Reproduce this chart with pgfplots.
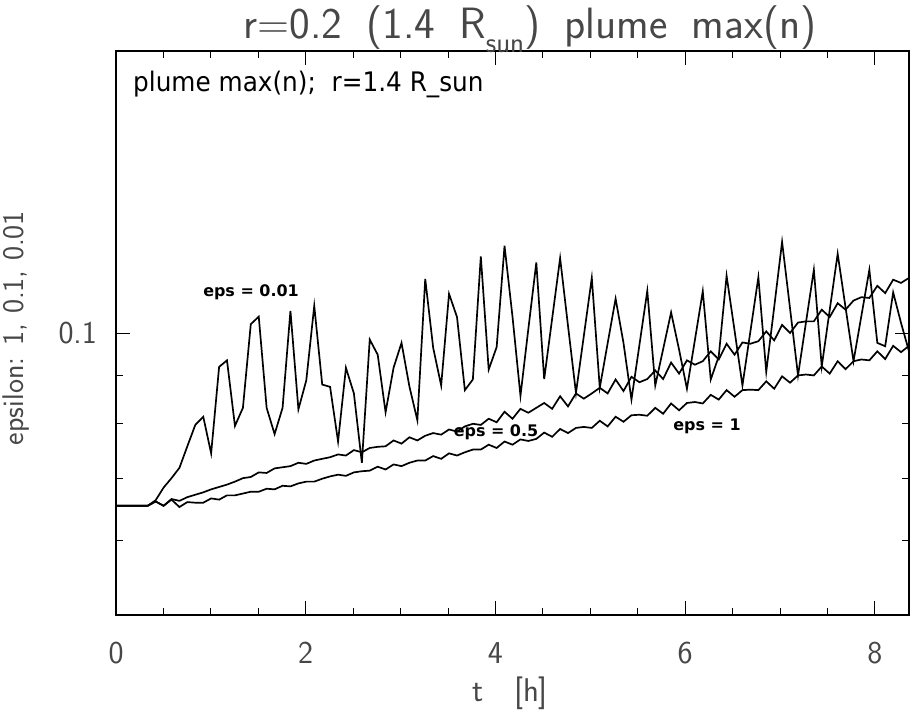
\documentclass[border=0pt]{standalone}
\usepackage{pgfplots}
\pgfplotsset{compat=1.18}
\usepackage{pgfplotstable}
\usepackage{fontspec}
\newcommand\hfont{\sffamily\color{black!72}}
\newfontfamily\condfont{DejaVu Sans}[FakeStretch=0.92]
\newfontfamily\dejavu{DejaVu Sans}

\pgfplotstableread{
t e001 e05 e1
0.000 0.0654 0.0654 0.0654
0.084 0.0654 0.0654 0.0654
0.167 0.0654 0.0654 0.0654
0.251 0.0654 0.0654 0.0654
0.334 0.0654 0.0654 0.0654
0.418 0.0663 0.0661 0.0661
0.502 0.0684 0.0654 0.0654
0.585 0.0700 0.0665 0.0664
0.669 0.0718 0.0662 0.0652
0.752 0.0757 0.0668 0.0660
0.836 0.0798 0.0672 0.0659
0.920 0.0814 0.0676 0.0659
1.003 0.0744 0.0681 0.0666
1.087 0.0920 0.0685 0.0664
1.170 0.0935 0.0689 0.0671
1.254 0.0796 0.0694 0.0671
1.338 0.0832 0.0700 0.0674
1.421 0.1022 0.0702 0.0677
1.505 0.1041 0.0710 0.0677
1.588 0.0832 0.0709 0.0682
1.672 0.0780 0.0717 0.0681
1.756 0.0832 0.0719 0.0687
1.839 0.1056 0.0721 0.0686
1.923 0.0829 0.0727 0.0691
2.006 0.0890 0.0725 0.0694
2.090 0.1069 0.0731 0.0694
2.174 0.0881 0.0734 0.0699
2.257 0.0876 0.0737 0.0703
2.341 0.0766 0.0742 0.0706
2.424 0.0918 0.0740 0.0704
2.508 0.0862 0.0750 0.0710
2.592 0.0727 0.0746 0.0712
2.675 0.0984 0.0754 0.0713
2.759 0.0948 0.0756 0.0720
2.842 0.0823 0.0757 0.0715
2.926 0.0918 0.0768 0.0724
3.010 0.0976 0.0762 0.0721
3.093 0.0877 0.0774 0.0727
3.177 0.0807 0.0768 0.0731
3.260 0.1142 0.0777 0.0731
3.344 0.0964 0.0782 0.0739
3.428 0.0879 0.0779 0.0734
3.511 0.1101 0.0789 0.0744
3.595 0.1040 0.0785 0.0740
3.678 0.0869 0.0795 0.0746
3.762 0.0892 0.0800 0.0751
3.846 0.1207 0.0798 0.0751
3.929 0.0914 0.0810 0.0760
4.013 0.0966 0.0803 0.0754
4.096 0.1239 0.0824 0.0766
4.180 0.1041 0.0810 0.0760
4.264 0.0857 0.0830 0.0770
4.347 0.1010 0.0822 0.0767
4.431 0.1189 0.0832 0.0771
4.514 0.0893 0.0842 0.0783
4.598 0.1036 0.0830 0.0775
4.682 0.1202 0.0856 0.0790
4.765 0.1018 0.0835 0.0782
4.849 0.0863 0.0862 0.0792
4.932 0.0993 0.0851 0.0794
5.016 0.1145 0.0862 0.0792
5.100 0.0874 0.0874 0.0806
5.183 0.0975 0.0862 0.0795
5.267 0.1088 0.0892 0.0814
5.350 0.0976 0.0867 0.0804
5.434 0.0849 0.0898 0.0817
5.518 0.0971 0.0886 0.0818
5.601 0.1109 0.0893 0.0816
5.685 0.0879 0.0912 0.0832
5.768 0.0961 0.0893 0.0820
5.852 0.1052 0.0930 0.0841
5.936 0.0960 0.0905 0.0827
6.019 0.0872 0.0935 0.0842
6.103 0.0983 0.0925 0.0844
6.186 0.1108 0.0933 0.0841
6.270 0.0892 0.0956 0.0859
6.354 0.0944 0.0937 0.0849
6.437 0.1151 0.0974 0.0869
6.521 0.1006 0.0948 0.0855
6.604 0.0879 0.0977 0.0869
6.688 0.1004 0.0974 0.0870
6.772 0.1147 0.0980 0.0869
6.855 0.0909 0.1004 0.0888
6.939 0.1066 0.0982 0.0872
7.022 0.1251 0.1020 0.0899
7.106 0.1062 0.1000 0.0885
7.190 0.0901 0.1026 0.0901
7.273 0.1025 0.1029 0.0903
7.357 0.1168 0.1029 0.0901
7.440 0.0921 0.1059 0.0921
7.524 0.1058 0.1040 0.0905
7.608 0.1215 0.1076 0.0933
7.691 0.1065 0.1059 0.0915
7.775 0.0933 0.1083 0.0933
7.858 0.1043 0.1092 0.0937
7.942 0.1168 0.1090 0.0935
8.026 0.0976 0.1123 0.0956
8.109 0.0968 0.1103 0.0938
8.193 0.1105 0.1140 0.0969
8.276 0.1025 0.1131 0.0954
8.360 0.0956 0.1145 0.0969
}\data

\begin{document}
\begin{tikzpicture}
\path[use as bounding box] (-116bp,-98bp) rectangle (794bp,615bp);
\begin{axis}[
  at={(0,0)}, anchor=south west,
  scale only axis, width=793bp, height=564bp,
  xmin=0, xmax=8.36,
  ymode=log, ymin=0.05, ymax=0.2,
  xtick={0,2,4,6,8}, xticklabels={0,2,4,6,8},
  minor xtick={0.5,1,1.5,2.5,3,3.5,4.5,5,5.5,6.5,7,7.5},
  ytick={0.1}, yticklabels={0.1},
  minor ytick={0.06,0.07,0.08,0.09},
  tick align=inside,
  major tick length=14bp, minor tick length=7bp,
  every tick/.style={black, line width=0.9pt},
  axis line style={black, line width=1.1pt},
  xticklabel style={font=\hfont\fontsize{32}{32}\selectfont, anchor=base, yshift=-48bp},
  yticklabel style={font=\hfont\fontsize{32}{32}\selectfont, anchor=east, inner sep=0pt, xshift=-19bp},
  clip=true,
]
\addplot[black, line width=1.7pt] table[x=t,y=e001]{\data};
\addplot[black, line width=1.7pt] table[x=t,y=e05]{\data};
\addplot[black, line width=1.7pt] table[x=t,y=e1]{\data};
\end{axis}
% texts
\node[anchor=base, inner sep=0pt, font=\hfont\fontsize{44}{44}\selectfont] at (414bp,576bp)
  {r=0.2\hspace{0.55em}(1.4\hspace{0.55em}R\raisebox{-0.3em}{\fontsize{29}{29}\selectfont sun})\hspace{0.55em}plume\hspace{0.55em}max(n)};
\node[anchor=base west, inner sep=0pt, font=\condfont\fontsize{27}{27}\selectfont] at (17bp,523bp)
  {plume max(n); \ r=1.4 R\_sun};
\node[anchor=base, inner sep=0pt, font=\hfont\fontsize{33}{33}\selectfont] at (394bp,-86bp)
  {t \ \ [h]};
\node[anchor=base, rotate=90, inner sep=0pt, font=\hfont\fontsize{30}{30}\selectfont] at (-92bp,287bp)
  {epsilon: 1, 0.1, 0.01};
\node[anchor=center, inner sep=0pt, font=\dejavu\bfseries\fontsize{16}{16}\selectfont] at (135bp,323bp) {eps = 0.01};
\node[anchor=center, inner sep=0pt, font=\dejavu\bfseries\fontsize{16}{16}\selectfont] at (380bp,183bp) {eps = 0.5};
\node[anchor=center, inner sep=0pt, font=\dejavu\bfseries\fontsize{16}{16}\selectfont] at (591bp,189bp) {eps = 1};
\end{tikzpicture}
\end{document}
